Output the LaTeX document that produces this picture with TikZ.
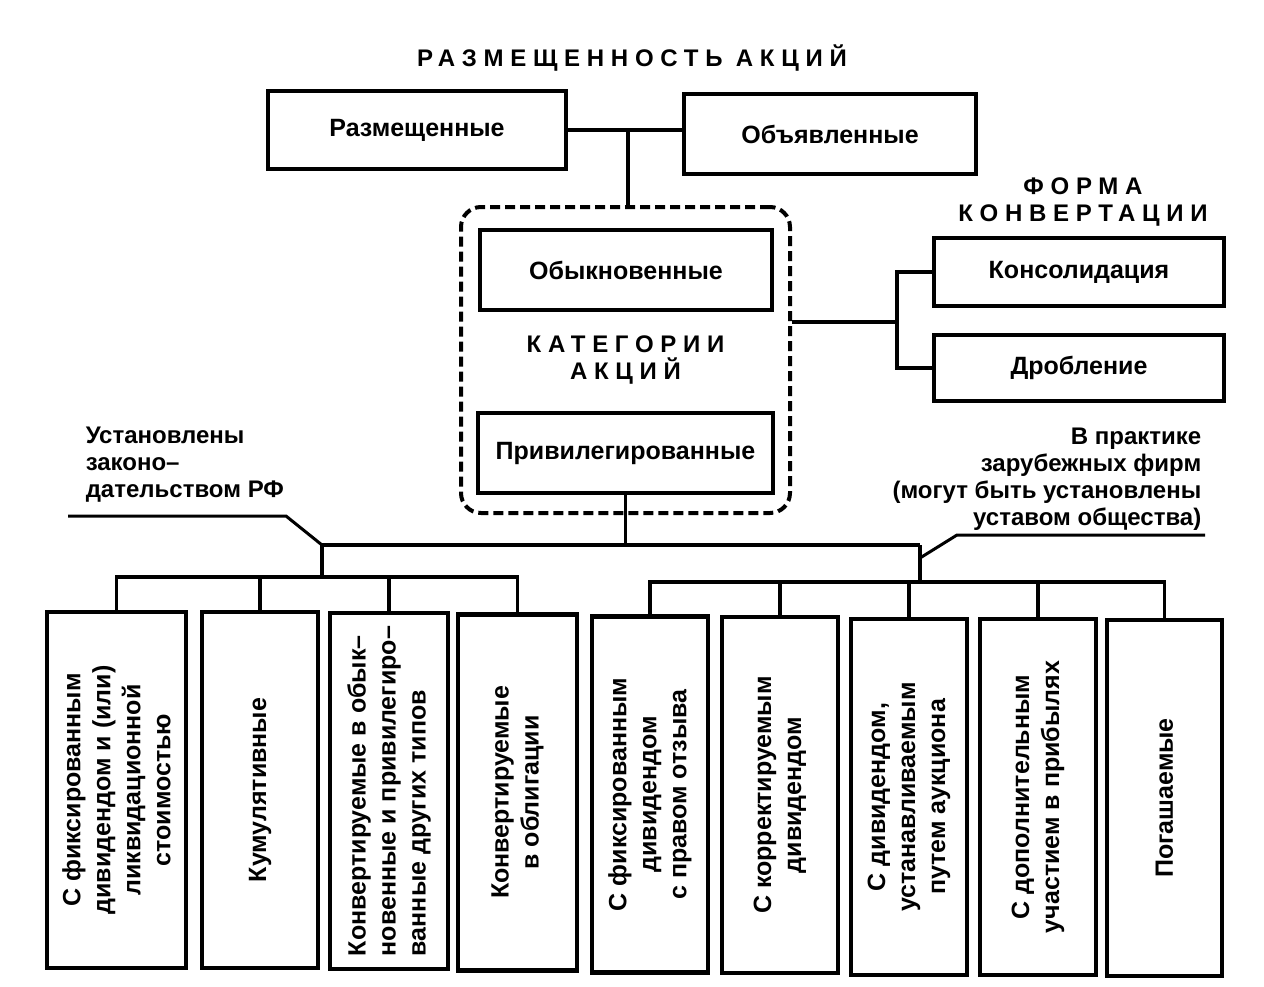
\documentclass[tikz,border=0pt]{standalone}
\usepackage{fontspec}
\setmainfont{Liberation Sans}
\newfontfamily\headfam{Liberation Sans}[LetterSpace=28]
\newcommand\boxfont{\fontsize{25}{30}\selectfont\bfseries}
\newcommand\headfont{\headfam\fontsize{24}{27}\selectfont\bfseries}
\newcommand\notefont{\fontsize{24}{27}\selectfont\bfseries}
\begin{document}
\begin{tikzpicture}[x=1pt, y=-1pt, line width=3.5pt,
  main/.style={draw, line width=4.5pt, inner sep=0pt, align=center, font=\boxfont},
  tall/.style={main, rotate=90, minimum width=356pt},
  head/.style={align=center, inner sep=0pt, font=\headfont},
  note/.style={inner sep=0pt, font=\notefont}]
\useasboundingbox (0,0) rectangle (1264,986);

% top
\node[head] (title) at (632,58) {РАЗМЕЩЕННОСТЬ АКЦИЙ};
\node[main, minimum width=298pt, minimum height=78pt] (razm) at (417,130) {Размещенные};
\node[main, minimum width=292pt, minimum height=80pt] (obyav) at (830,134) {Объявленные};

% categories
\node[head, draw, line width=4pt, dash pattern=on 10pt off 5pt, rounded corners=20pt,
  minimum width=329pt, minimum height=306pt] (kat) at (625.5,360) {КАТЕГОРИИ\\АКЦИЙ};
\node[main, minimum width=292pt, minimum height=80pt] (obyk) at (626,270) {Обыкновенные};
\node[main, minimum width=295pt, minimum height=80pt] (priv) at (625.5,453) {Привилегированные};

% conversion
\node[head] (forma) at (1083,202) {ФОРМА\\КОНВЕРТАЦИИ};
\node[main, minimum width=290pt, minimum height=68pt] (kons) at (1079,272) {Консолидация};
\node[main, minimum width=290pt, minimum height=66pt] (drob) at (1079,368) {Дробление};

\coordinate (top) at (628,130);
\draw (razm.east) -- (razm.east -| obyav.west);
\draw (top) -- (top |- kat.north);
\coordinate (fj) at (897,322);
\draw (fj -| kat.east) -- (fj);
\draw (kons.west) -| (fj) |- (drob.west);

% notes
\node[note, align=left, anchor=west] (zak) at (84,465) {Установлены\\законо–\\дательством РФ};
\node[note, align=right, anchor=east] (prak) at (1203,479) {В практике\\зарубежных фирм\\(могут быть установлены\\уставом общества)};

% bottom row
\node[tall, minimum height=139pt] (b1) at (116.5,790) {С фиксированным\\дивидендом и (или)\\ликвидационной\\стоимостью};
\node[tall, minimum height=116pt] (b2) at (260,790) {Кумулятивные};
\node[tall, minimum height=118pt, align=left] (b3) at (389,791) {Конвертируемые в обык–\\новенные и привилегиро–\\ванные других типов};
\node[tall, minimum height=119pt] (b4) at (517.5,792.5) {Конвертируемые\\в облигации};
\node[tall, minimum height=116pt] (b5) at (650,794.5) {С фиксированным\\дивидендом\\с правом отзыва};
\node[tall, minimum height=116pt] (b6) at (780,795) {С корректируемым\\дивидендом};
\node[tall, minimum height=116pt] (b7) at (909,797) {С дивидендом,\\устанавливаемым\\путем аукциона};
\node[tall, minimum height=116pt] (b8) at (1038,797) {С дополнительным\\участием в прибылях};
\node[tall, minimum height=115pt] (b9) at (1164.5,798) {Погашаемые};

\coordinate (mb) at (625.5,545);
\coordinate (ml) at (322,545);
\coordinate (mr) at (920,545);
\coordinate (sl) at (322,577);
\coordinate (sr) at (920,582);
\draw (priv.south) -- (mb);
\draw (ml) -- (mr);
\draw (ml) -- (sl);
\draw (mr) -- (sr);
\draw (b1.east) |- (sl) -| (b4.east);
\foreach \b in {b2,b3}
  \draw (\b.east) -- (\b.east |- sl);
\draw (b5.east) |- (sr) -| (b9.east);
\foreach \b in {b6,b7,b8}
  \draw (\b.east) -- (\b.east |- sr);

% note lines
\coordinate (zl) at (68,516);
\coordinate (zk) at (286,516);
\coordinate (pr) at (1205,535);
\coordinate (pk) at (957,535);
\coordinate (pe) at (920,558);
\draw[line width=3pt] (zl) -- (zk) -- (ml);
\draw[line width=3pt] (pr) -- (pk) -- (pe);
\end{tikzpicture}
\end{document}
